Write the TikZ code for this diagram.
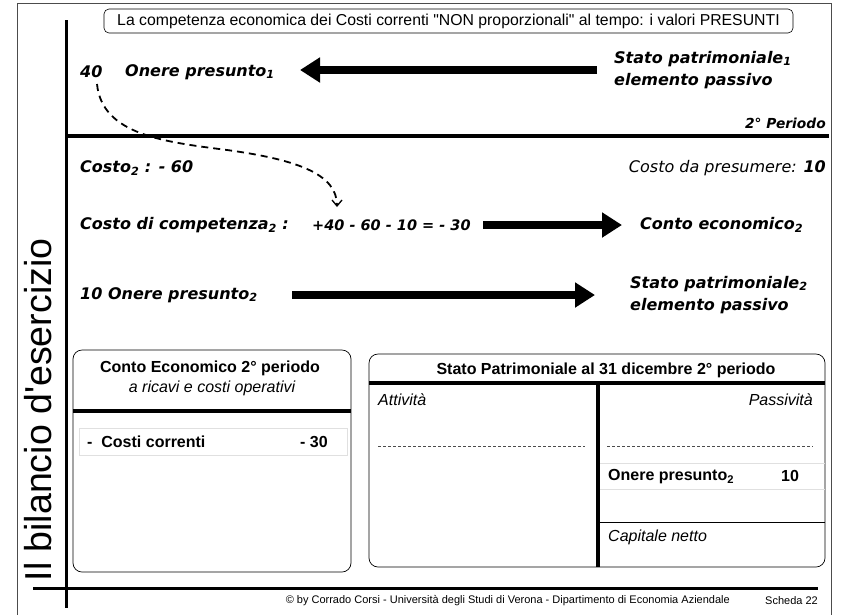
\documentclass[tikz,border=0pt]{standalone}
\usepackage{fontspec}
\setmainfont{Liberation Sans}
\newfontfamily\arialfont{Liberation Sans}
\newfontfamily\vfont{DejaVu Sans}[BoldFont={DejaVu Sans Bold},ItalicFont={DejaVu Sans Oblique},BoldItalicFont={DejaVu Sans Bold Oblique}]
\usetikzlibrary{arrows.meta}
\begin{document}
\begin{tikzpicture}[x=1pt,y=-1pt,
  lbl/.style={inner sep=0pt,anchor=west,font=\vfont\bfseries\itshape\fontsize{16}{22.5}\selectfont},
  bigarrow/.style={line width=8pt,-{Triangle[length=20pt,width=24pt]}},
  dasharrow/.style={line width=1.8pt,dash pattern=on 7pt off 5pt,-{Straight Barb[length=6pt,width=10pt,line width=1.3pt]}},
  boxhead/.style={inner sep=0pt,font=\bfseries\fontsize{16}{18}\selectfont},
  boxit/.style={inner sep=0pt,font=\itshape\fontsize{16}{18}\selectfont},
  boxb/.style={inner sep=0pt,font=\bfseries\fontsize{16}{18}\selectfont},
  thinrule/.style={line width=0.7pt},
  greyrule/.style={line width=0.7pt,black!12},
  dotrule/.style={line width=0.6pt,black!70,dash pattern=on 3pt off 2pt}]
\useasboundingbox (0,0) rectangle (843,614);
% outer frame
\draw[line width=0.9pt,black!70] (17,3) -- (831,3) -- (831,620);
\draw[line width=0.9pt,black!70] (17,3) -- (17,620);
% main rules
\draw[line width=3pt] (66,20) -- (66,608);
\draw[line width=4pt] (66,136) -- (829,136);
\draw[line width=3pt] (33,588) -- (818,588);
% title
\node[draw,line width=0.6pt,rounded corners=5pt,minimum width=689pt,minimum height=24pt,inner sep=0pt,
  font=\arialfont\fontsize{15.8}{18}\selectfont] (title) at (448.5,21)
  {La competenza economica dei Costi correnti "NON proporzionali" al tempo: i valori PRESUNTI};
% vertical title
\node[rotate=90,inner sep=0pt,font=\arialfont\fontsize{37.5}{40}\selectfont] (vt) at (38,410) {Il bilancio d'esercizio};
% first period
\node[lbl] (n40) at (80,72) {40};
\node[lbl] (on1) at (125,72) {Onere presunto\textsubscript{1}};
\node[lbl,align=left] (sp1) at (614,70) {Stato patrimoniale\textsubscript{1}\\elemento passivo};
\coordinate (a1s) at (597,70);
\coordinate (a1e) at (300,70);
\draw[bigarrow] (a1s) -- (a1e);
\node[lbl,anchor=east,font=\vfont\bfseries\itshape\fontsize{13.8}{16}\selectfont] (per) at (826,123) {2° Periodo};
% second period
\node[lbl] (c2) at (80,168) {Costo\textsubscript{2} : - 60};
\node[lbl,anchor=east,font=\vfont\itshape\fontsize{16}{18}\selectfont] (pres) at (826,168) {Costo da presumere: \textbf{10}};
\node[lbl] (comp) at (80,225) {Costo di competenza\textsubscript{2} :};
\node[lbl,font=\vfont\bfseries\itshape\fontsize{14.5}{18}\selectfont] (calc) at (312,225) {+40 - 60 - 10 = - 30};
\node[lbl] (ce) at (640,225) {Conto economico\textsubscript{2}};
\coordinate (a2s) at (483,225);
\coordinate (a2e) at (622,225);
\draw[bigarrow] (a2s) -- (a2e);
\node[lbl] (on2) at (80,295) {10 Onere presunto\textsubscript{2}};
\node[lbl,align=left] (sp2) at (630,295) {Stato patrimoniale\textsubscript{2}\\elemento passivo};
\coordinate (a3s) at (292,295);
\coordinate (a3e) at (595,295);
\draw[bigarrow] (a3s) -- (a3e);
% dashed link
\coordinate (d1) at (97,84);
\coordinate (d2) at (337,207);
\draw[dasharrow] (d1) .. controls (102,135) and (165,142) .. (227,150) .. controls (300,160) and (337,175) .. (d2);
% Conto economico box
\draw[line width=0.7pt,rounded corners=9pt] (73,350) rectangle (351,572);
\draw[line width=3.5pt] (73,411) -- (351,411);
\node[boxhead] (ceh) at (210,368) {Conto Economico 2° periodo};
\node[boxit] (ces) at (212,388) {a ricavi e costi operativi};
\draw[greyrule] (79,428) rectangle (347,455);
\node[boxb,anchor=west] (cc) at (87,442) {-\ \ Costi correnti};
\node[boxb,anchor=east] (cv) at (328,442) {- 30};
% Stato patrimoniale box
\draw[line width=0.7pt,rounded corners=9pt] (369,354) rectangle (825,567);
\draw[line width=3.5pt] (369,383) -- (825,383);
\draw[line width=3.5pt] (598,383) -- (598,567);
\node[boxhead] (sph) at (606,370) {Stato Patrimoniale al 31 dicembre 2° periodo};
\node[boxit,anchor=west] (att) at (378,400) {Attività};
\node[boxit,anchor=east] (pas) at (813,400) {Passività};
\draw[dotrule] (378,446) -- (585,446);
\draw[dotrule] (607,446) -- (813,446);
\draw[greyrule] (600,463) -- (825,463);
\draw[greyrule] (600,489) -- (825,489);
\node[boxb,anchor=west] (onp) at (608,477) {Onere presunto\textsubscript{2}};
\node[boxb] (onv) at (790,476) {10};
\draw[thinrule] (600,522) -- (825,522);
\node[boxit,anchor=west] (cn) at (608,537) {Capitale netto};
% footer
\node[inner sep=0pt,anchor=east,font=\fontsize{11}{13}\selectfont] (foot) at (730,601)
  {© by Corrado Corsi - Università degli Studi di Verona - Dipartimento di Economia Aziendale};
\node[inner sep=0pt,anchor=east,font=\fontsize{11}{13}\selectfont] (sch) at (818,601) {Scheda 22};
\end{tikzpicture}
\end{document}
